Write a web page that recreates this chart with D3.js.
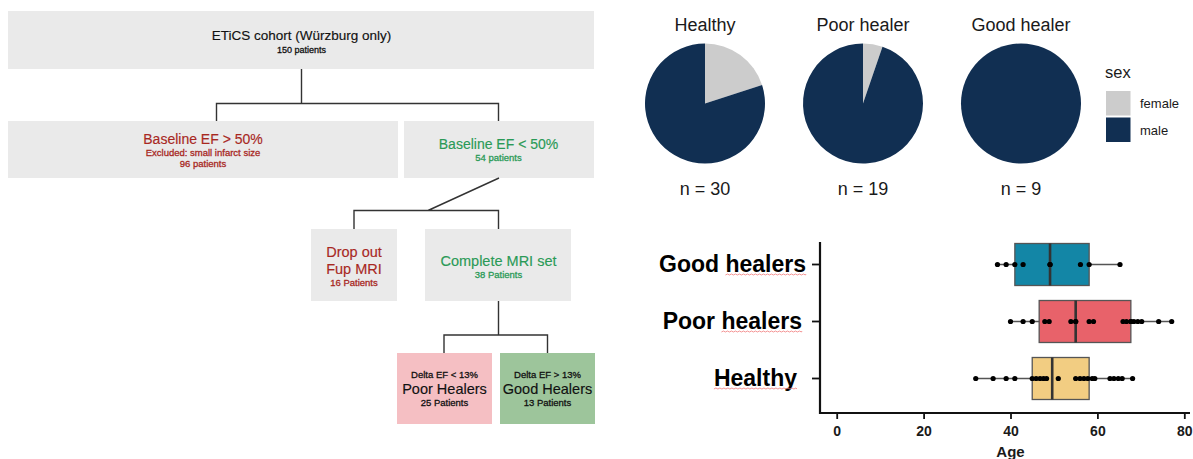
<!DOCTYPE html>
<html>
<head>
<meta charset="utf-8">
<script src="https://cdn.jsdelivr.net/npm/d3@7"></script>
<style>
  html, body { margin: 0; padding: 0; background: #fff; }
  svg { display: block; font-family: "Liberation Sans", Arial, sans-serif; }
</style>
</head>
<body>
<svg id="chart"></svg>
<script>
// ── DATA ────────────────────────────────────────────────────────────────
// flow chart texts
const flowTitles  = ["ETiCS cohort (Würzburg only)", "Baseline EF > 50%", "Baseline EF < 50%",
                     "Drop out", "Complete MRI set", "Poor Healers", "Good Healers"];
const flowCounts  = ["150 patients", "96 patients", "54 patients", "16 Patients",
                     "38 Patients", "25 Patients", "13 Patients"];

// pies (sex per group)
const pieGroups    = ["Healthy", "Poor healer", "Good healer"];
const femaleCounts = [6, 1, 0];
const maleCounts   = [24, 18, 9];
const sexLevels    = ["female", "male"];

// box plot (age)
const boxGroups   = ["Good healers", "Poor healers", "Healthy"];
const whiskerLow  = [37.0, 40.0, 32.0];
const boxQ1       = [41.0, 46.6, 45.0];
const boxMedian   = [49.1, 55.0, 49.6];
const boxQ3       = [58.1, 67.7, 58.1];
const whiskerHigh = [65.2, 77.1, 68.1];
const agesGood    = [37.0, 39.0, 41.0, 42.9, 49.1, 49.1, 56.1, 58.1, 65.2];
const agesPoor    = [40.0, 42.9, 45.0, 47.9, 48.9, 53.9, 55.0, 55.0, 58.1, 59.1,
                     65.9, 66.7, 67.7, 67.7, 68.4, 69.3, 70.2, 74.1, 77.1];
const agesHealthy = [32.0, 36.0, 39.0, 41.0, 45.0, 45.9, 46.8, 47.6, 48.3, 51.0,
                     55.0, 56.0, 56.9, 57.8, 58.8, 59.4, 62.9, 63.8, 64.8, 65.7, 68.1];
const xTicks      = [0, 20, 40, 60, 80];

// ── SETUP ───────────────────────────────────────────────────────────────
const W = 1193, H = 459;
const svg = d3.select("#chart").attr("width", W).attr("height", H);

const RED = "#a8281f", GREEN = "#2a9a57", BOXBG = "#eaeaea", LINE = "#333";

// ── FLOW CHART ──────────────────────────────────────────────────────────
const flow = svg.append("g");
const boxes = [
  { x: 8,   y: 11,  w: 586, h: 58, fill: BOXBG },
  { x: 8,   y: 121, w: 390, h: 57, fill: BOXBG },
  { x: 404, y: 121, w: 190, h: 57, fill: BOXBG },
  { x: 311, y: 229, w: 86,  h: 72, fill: BOXBG },
  { x: 425, y: 229, w: 146, h: 72, fill: BOXBG },
  { x: 397, y: 353, w: 95,  h: 71, fill: "#f5bfc3" },
  { x: 500, y: 353, w: 95,  h: 71, fill: "#9dc59b" }
];
flow.selectAll("rect").data(boxes).join("rect")
  .attr("x", d => d.x).attr("y", d => d.y)
  .attr("width", d => d.w).attr("height", d => d.h)
  .attr("fill", d => d.fill);

const connectors = [
  "M301.5,69V103.5M216.5,121V103.5H498.5V121",
  "M499,178L428,210.5M354,229V210.5H498.5V229",
  "M498.5,301V335M444,353V335H547.5V353"
];
flow.selectAll("path").data(connectors).join("path")
  .attr("d", d => d).attr("fill", "none")
  .attr("stroke", LINE).attr("stroke-width", 1.4);

// text helper; small print gets a hairline stroke so it reads as heavy as the original
function txt(x, y, s, size, color) {
  flow.append("text").attr("x", x).attr("y", y)
    .attr("text-anchor", "middle")
    .style("font-size", size + "px")
    .attr("fill", color)
    .attr("stroke", color).attr("stroke-width", size < 11 ? 0.3 : 0.15)
    .text(s);
}
txt(301.5, 40, flowTitles[0], 13.5, "#111");
txt(301.5, 52.5, flowCounts[0], 9, "#111");
txt(203, 143.5, flowTitles[1], 14, RED);
txt(203, 155.5, "Excluded: small infarct size", 9.5, RED);
txt(203, 166.5, flowCounts[1], 9.5, RED);
txt(498.5, 149, flowTitles[2], 14, GREEN);
txt(498.5, 161, flowCounts[2], 9.5, GREEN);
txt(354, 256.5, flowTitles[3], 14.5, RED);
txt(354, 274, "Fup MRI", 14.5, RED);
txt(354, 286, flowCounts[3], 9.5, RED);
txt(498.5, 265.5, flowTitles[4], 14.5, GREEN);
txt(498.5, 278, flowCounts[4], 9.5, GREEN);
txt(444.5, 377.5, "Delta EF < 13%", 9.5, "#111");
txt(444.5, 394, flowTitles[5], 14.5, "#111");
txt(444.5, 406, flowCounts[5], 9.5, "#111");
txt(547.5, 377.5, "Delta EF > 13%", 9.5, "#111");
txt(547.5, 394, flowTitles[6], 14.5, "#111");
txt(547.5, 406, flowCounts[6], 9.5, "#111");

// ── PIES ────────────────────────────────────────────────────────────────
const sexColor = d3.scaleOrdinal().domain(sexLevels).range(["#cccccc", "#112f52"]);
const pieX = d3.scalePoint().domain(pieGroups).range([705, 1021]);
const pie = d3.pie().sort(null).value(d => d.n);
const arc = d3.arc().innerRadius(0).outerRadius(60);

pieGroups.forEach((grp, i) => {
  const cx = pieX(grp);
  const slices = [
    { sex: "female", n: femaleCounts[i] },
    { sex: "male",   n: maleCounts[i] }
  ];
  const g = svg.append("g").attr("transform", `translate(${cx},103.5)`);
  g.selectAll("path").data(pie(slices)).join("path")
    .attr("d", arc).attr("fill", d => sexColor(d.data.sex));
  svg.append("text").attr("x", cx).attr("y", 30.5)
    .attr("text-anchor", "middle").style("font-size", "18px")
    .attr("fill", "#1a1a1a").text(grp);
  svg.append("text").attr("x", cx).attr("y", 194.5)
    .attr("text-anchor", "middle").style("font-size", "18px")
    .attr("fill", "#1a1a1a").text("n = " + (femaleCounts[i] + maleCounts[i]));
});

// legend
svg.append("text").attr("x", 1105).attr("y", 78)
  .style("font-size", "16.5px").attr("fill", "#1a1a1a").text("sex");
sexLevels.forEach((s, i) => {
  svg.append("rect").attr("x", 1106).attr("y", 91 + i * 26.5)
    .attr("width", 24.5).attr("height", 24.5).attr("fill", sexColor(s));
  svg.append("text").attr("x", 1140).attr("y", 103.5 + i * 26.5)
    .attr("dy", "0.35em").style("font-size", "13px")
    .attr("fill", "#1a1a1a").text(s);
});

// ── BOX PLOT ────────────────────────────────────────────────────────────
const xScale = d3.scaleLinear().domain([0, 80]).range([836.7, 1184.3]);
const yScale = d3.scalePoint().domain(boxGroups).range([264.5, 378.5]);
const boxColor = d3.scaleOrdinal().domain(boxGroups).range(["#1386a6", "#e8626a", "#f2cd82"]);
const agesByGroup = [agesGood, agesPoor, agesHealthy];
const boxH = 42;

const bp = svg.append("g");
boxGroups.forEach((grp, i) => {
  const cy = yScale(grp);
  bp.append("line")
    .attr("x1", xScale(whiskerLow[i])).attr("x2", xScale(whiskerHigh[i]))
    .attr("y1", cy).attr("y2", cy)
    .attr("stroke", "#555").attr("stroke-width", 1.3);
  bp.append("rect")
    .attr("x", xScale(boxQ1[i])).attr("y", cy - boxH / 2)
    .attr("width", xScale(boxQ3[i]) - xScale(boxQ1[i])).attr("height", boxH)
    .attr("fill", boxColor(grp)).attr("stroke", "#555").attr("stroke-width", 1.3);
  bp.append("line")
    .attr("x1", xScale(boxMedian[i])).attr("x2", xScale(boxMedian[i]))
    .attr("y1", cy - boxH / 2).attr("y2", cy + boxH / 2)
    .attr("stroke", "#333").attr("stroke-width", 2.6);
  bp.selectAll(null).data(agesByGroup[i]).join("circle")
    .attr("cx", d => xScale(d)).attr("cy", cy).attr("r", 2.6)
    .attr("fill", "#000");
});

// x axis
svg.append("g").attr("transform", "translate(0,413)")
  .call(d3.axisBottom(xScale).tickValues(xTicks).tickSize(6).tickPadding(7))
  .call(ax => ax.select(".domain").remove())
  .call(ax => ax.selectAll(".tick line").attr("stroke", "#111").attr("stroke-width", 1.8))
  .call(ax => ax.selectAll(".tick text")
    .style("font-family", "Liberation Sans, Arial, sans-serif")
    .style("font-size", "14px").style("font-weight", "bold").attr("fill", "#1a1a1a"));
svg.append("path").attr("d", "M820,413H1190")
  .attr("stroke", "#111").attr("stroke-width", 2.2);
svg.append("text").attr("x", 1010.5).attr("y", 457)
  .attr("text-anchor", "middle").style("font-size", "15px").style("font-weight", "bold")
  .attr("fill", "#1a1a1a").text("Age");

// y axis
svg.append("path").attr("d", "M820,242V414")
  .attr("stroke", "#111").attr("stroke-width", 2.2);
const labelEnd = { "Good healers": 806, "Poor healers": 802, "Healthy": 797 };
boxGroups.forEach(grp => {
  const cy = yScale(grp);
  svg.append("line").attr("x1", 812).attr("x2", 820)
    .attr("y1", cy).attr("y2", cy).attr("stroke", "#111").attr("stroke-width", 1.8);
  const t = svg.append("text").attr("x", labelEnd[grp]).attr("y", cy)
    .attr("dy", "0.34em").attr("text-anchor", "end")
    .style("font-size", "23px").style("font-weight", "bold").attr("fill", "#000");
  const words = grp.split(" ");
  words.forEach((w, k) => {
    t.append("tspan").attr("class", "w" + k).text((k ? " " : "") + w);
  });
  // spell-check squiggle under the last word
  const last = t.select(".w" + (words.length - 1)).node();
  const n = last.getNumberOfChars();
  const start = words.length > 1 ? 1 : 0;
  const x0 = last.getStartPositionOfChar(start).x;
  const x1 = last.getEndPositionOfChar(n - 1).x;
  const yy = cy + 10.5;
  let d = `M${x0},${yy}`;
  for (let x = x0, up = true; x < x1; x += 2, up = !up) d += `L${Math.min(x + 2, x1)},${yy + (up ? -1 : 0)}`;
  svg.append("path").attr("d", d).attr("fill", "none")
    .attr("stroke", "#f07a7a").attr("stroke-width", 0.8);
});
</script>
</body>
</html>
